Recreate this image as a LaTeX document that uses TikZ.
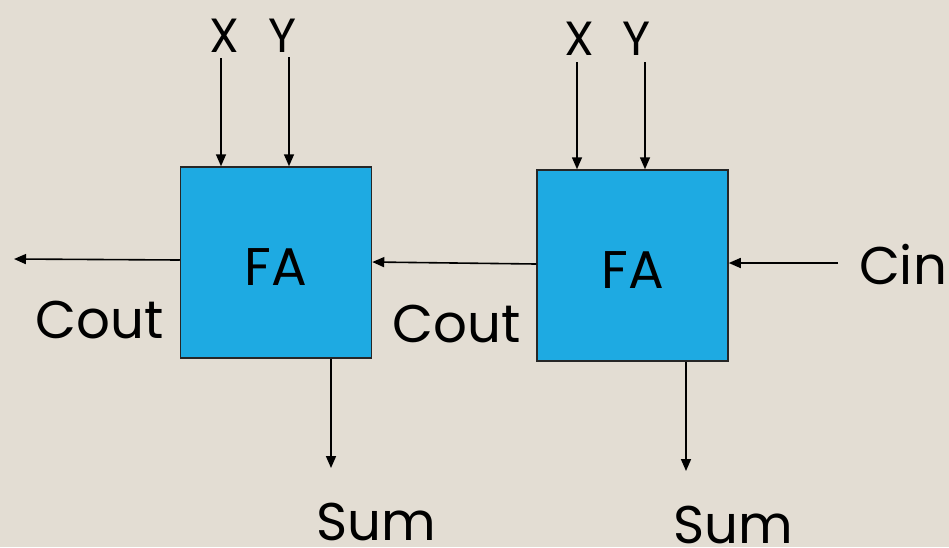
\documentclass[tikz,border=0pt]{standalone}
\usepackage{fontspec}
\setmainfont{Poppins}
\usetikzlibrary{arrows.meta}
\definecolor{bg}{HTML}{E3DDD3}
\definecolor{fa}{HTML}{1EAAE2}
\begin{document}
\begin{tikzpicture}[x=1pt,y=-1pt,
  fabox/.style={draw=black!85,line width=1.5pt,fill=fa,minimum width=191pt,minimum height=191pt,inner sep=0pt},
  conn/.style={line width=1.6pt,-{Triangle[length=12pt,width=10pt]}},
  lbl/.style={inner sep=0pt,anchor=base,text depth=0pt,font=\fontsize{53}{53}\selectfont},
  xy/.style={lbl,font=\fontsize{48}{48}\selectfont},
  fat/.style={lbl,font=\fontsize{53}{53}\selectfont}]
\fill[bg] (0,0) rectangle (949,547);
\useasboundingbox (0,0) rectangle (949,547);
\node[fabox] (fa1) at (276,262.5) {};
\node[fabox] (fa2) at (632.5,265.5) {};
\node[fat] (fa1t) at (276,285) {FA};
\node[fat] (fa2t) at (633,288) {FA};
% labels
\node[xy] (x1) at (224,52) {X};
\node[xy] (y1) at (283,52) {Y};
\node[xy] (x2) at (579,55) {X};
\node[xy] (y2) at (637,55) {Y};
\node[lbl] (cout1) at (100,338) {Cout};
\node[lbl] (cout2) at (457,342) {Cout};
\node[lbl] (cin) at (903,284) {Cin};
\node[lbl] (sum1) at (376,540) {Sum};
\node[lbl] (sum2) at (733,543) {Sum};
% free ends
\coordinate (x1s) at (221,58);
\coordinate (y1s) at (289,57);
\coordinate (x2s) at (577,62);
\coordinate (y2s) at (645,62);
\coordinate (coutend) at (14,259);
\coordinate (cins) at (838,263);
\coordinate (sum1e) at (331,468);
\coordinate (sum2e) at (686,471);
% connectors
\draw[conn] (x1s) -- (x1s |- fa1.north);
\draw[conn] (y1s) -- (y1s |- fa1.north);
\draw[conn] (x2s) -- (x2s |- fa2.north);
\draw[conn] (y2s) -- (y2s |- fa2.north);
\draw[conn] (fa1.west |- 0,260) -- (coutend);
\draw[conn] (fa2.west |- 0,264) -- (fa1.east |- 0,262);
\draw[conn] (cins) -- (fa2.east |- cins);
\draw[conn] (sum1e |- fa1.south) -- (sum1e);
\draw[conn] (sum2e |- fa2.south) -- (sum2e);
\end{tikzpicture}
\end{document}
